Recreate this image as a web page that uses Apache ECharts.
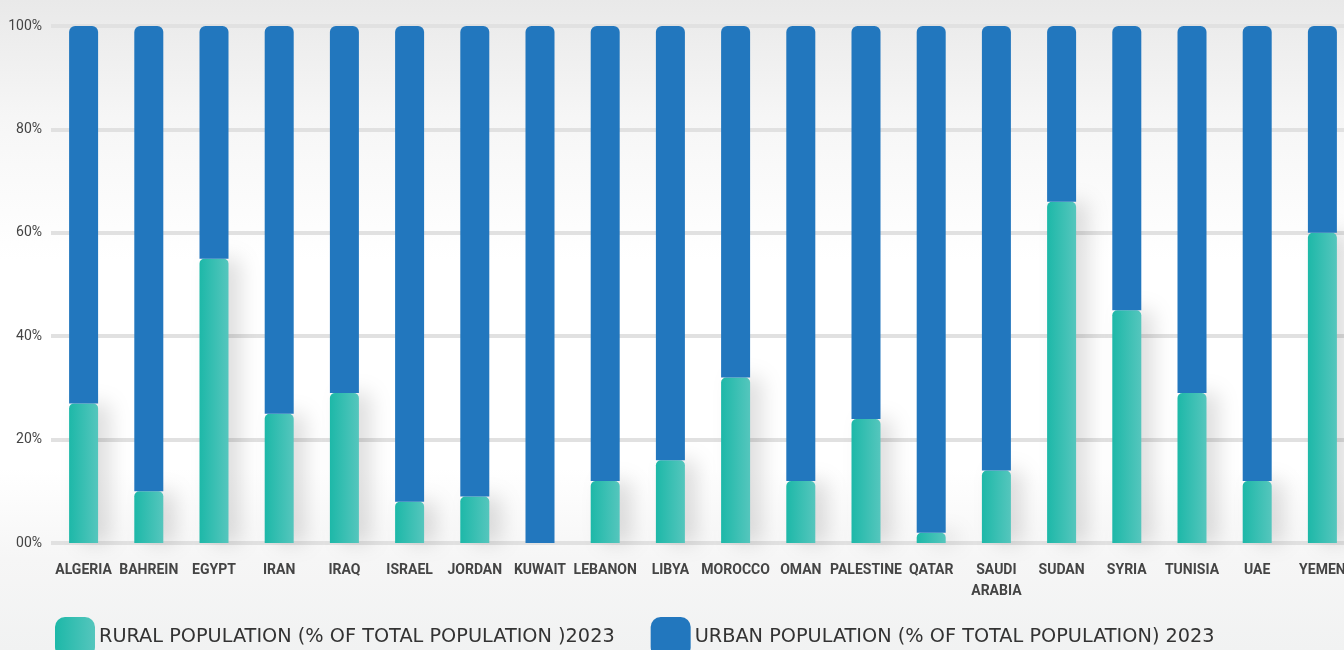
<!DOCTYPE html>
<html>
<head>
<meta charset="utf-8">
<script src="https://cdn.jsdelivr.net/npm/echarts@6/dist/echarts.min.js"></script>
<style>
html,body{margin:0;padding:0;}
#chart{width:1344px;height:650px;background:linear-gradient(180deg,#e9e9e9 0%,#f6f6f6 18%,#ffffff 40%,#ffffff 72%,#f6f6f6 86%,#f1f2f2 100%);}
</style>
</head>
<body>
<div id="chart"></div>
<script>
const categories = ['ALGERIA','BAHREIN','EGYPT','IRAN','IRAQ','ISRAEL','JORDAN','KUWAIT','LEBANON','LIBYA','MOROCCO','OMAN','PALESTINE','QATAR','SAUDI\nARABIA','SUDAN','SYRIA','TUNISIA','UAE','YEMEN'];
const ruralValues = [27,10,55,25,29,8,9,0,12,16,32,12,24,2,14,66,45,29,12,60];
const urbanValues = [73,90,45,75,71,92,91,100,88,84,68,88,76,98,86,34,55,71,88,40];
const yTicks = [0,20,40,60,80,100];
const ruralName = 'RURAL POPULATION (% OF TOTAL POPULATION )2023';
const urbanName = 'URBAN POPULATION (% OF TOTAL POPULATION) 2023';

const chart = echarts.init(document.getElementById('chart'));
const tealGrad = new echarts.graphic.LinearGradient(0,0,1,0,[
  {offset:0,color:'#1db8a8'},{offset:1,color:'#55c6bd'}
]);
chart.setOption({
  backgroundColor:'transparent',
  animation:false,
  grid:{left:51,width:1304,top:26,bottom:107,containLabel:false,outerBoundsMode:'none'},
  legend:{
    left:55, top:617, padding:0, itemWidth:40, itemHeight:40, itemGap:36,
    icon:'roundRect',
    textStyle:{fontFamily:'DejaVu Sans',fontSize:19.3,color:'#333',padding:[0,0,0,-1]},
    data:[ruralName,urbanName]
  },
  xAxis:{
    type:'category', data:categories,
    axisLine:{show:false}, axisTick:{show:false},
    axisLabel:{interval:0,margin:17,fontFamily:'Roboto',fontWeight:'bold',fontSize:14,color:'#444',lineHeight:21}
  },
  yAxis:{
    type:'value', min:yTicks[0], max:yTicks[yTicks.length-1], interval:20,
    axisLine:{show:false}, axisTick:{show:false},
    axisLabel:{margin:9,fontFamily:'Roboto',fontSize:14,color:'#444',
      formatter:v=> v===0 ? '00%' : v+'%'},
    splitLine:{lineStyle:{color:'#e1e1e1',width:4}}
  },
  series:[
    {name:ruralName,type:'bar',stack:'pop',barWidth:29,data:ruralValues,
     itemStyle:{color:tealGrad,borderRadius:[5,5,0,0],shadowColor:'rgba(0,0,0,0.13)',shadowBlur:20,shadowOffsetX:12}},
    {name:urbanName,type:'bar',stack:'pop',barWidth:29,data:urbanValues,
     itemStyle:{color:'#2277be',borderRadius:[6,6,0,0]}}
  ]
});
</script>
</body>
</html>
